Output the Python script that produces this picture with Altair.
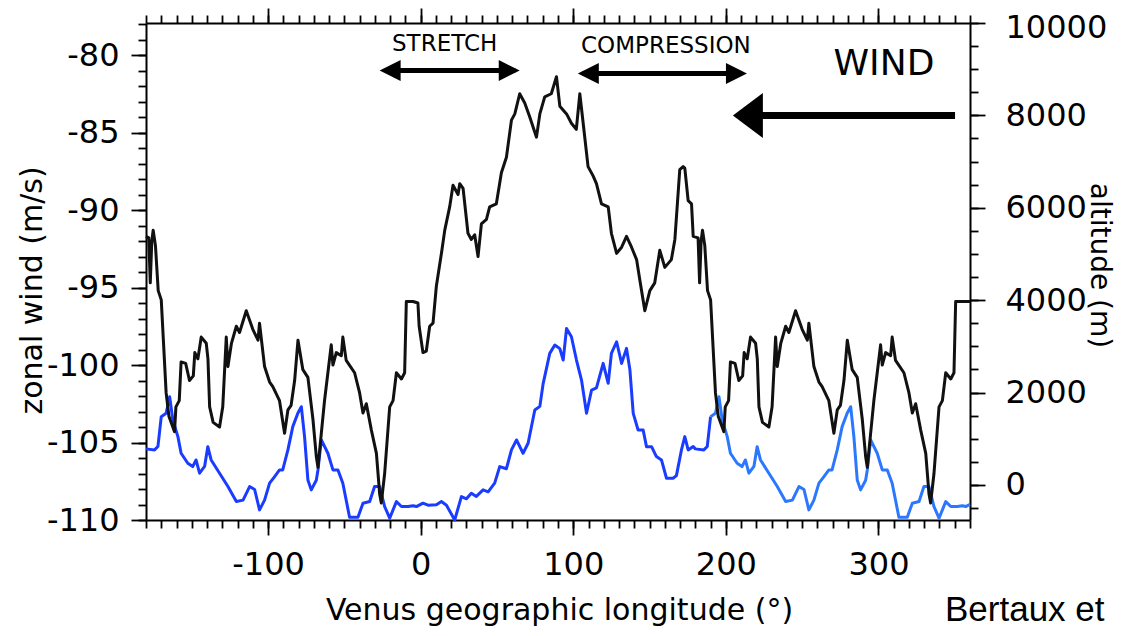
import altair as alt
import pandas as pd

# ---- black curve: zonal wind (m/s) vs longitude (deg) ----
wind_lon = [
    -180, -178.2, -177.2, -176.2, -175.3, -173.8, -172, -170, -166.8, -165,
    -161.3, -160.4, -158.2, -157, -154, -151.5, -149, -148, -146, -143.8,
    -140.5, -139.4, -138.3, -136, -131.8, -129.7, -127.4, -126.3, -124, -120.8,
    -118.7, -114.3, -110, -106.6, -105.6, -102.3, -99, -96.9, -92.5, -89.2,
    -87, -84.9, -82.6, -80.4, -77.2, -73.9, -70.6, -68.4, -67.3, -65.1,
    -63, -60.8, -58.6, -57.5, -55.3, -52, -51, -48.8, -43.3, -40,
    -37.8, -35.6, -32.3, -29, -26.9, -25.8, -23.6, -20.3, -18.1, -15.9,
    -12.6, -10.5, -9.4, -5, -1.8, -1, 1.5, 3.7, 5.9, 8.1,
    10.3, 13.6, 15.8, 19, 21.2, 24.5, 25.6, 27.8, 31, 33.2,
    35.4, 37.6, 39.8, 43.1, 45.2, 49.6, 52.9, 56.2, 59.5, 61.7,
    64.9, 68.2, 71.5, 75.9, 78.1, 81.3, 85.6, 89, 91.2, 95.6,
    98.8, 102, 104.3, 106.5, 109.7, 113, 115.2, 118.5, 122.9, 125,
    128.4, 131.7, 134.9, 138.2, 141.5, 143.6, 146.9, 150.2, 153.4, 156.7,
    160, 164.3, 166.6, 169.8, 172, 173.1, 175.3, 177.5, 178.6,
    181.8, 182.8, 183.8, 184.7, 186.2, 188, 190, 193.2, 195,
    198.7, 199.6, 201.8, 203, 206, 208.5, 211, 212, 214, 216.2,
    219.5, 220.6, 221.7, 224, 228.2, 230.3, 232.6, 233.7, 236, 239.2,
    241.3, 245.7, 250, 253.4, 254.4, 257.7, 261, 263.1, 267.5, 270.8,
    273, 275.1, 277.4, 279.6, 282.8, 286.1, 289.4, 291.6, 292.7, 294.9,
    297, 299.2, 301.4, 302.5, 304.7, 308, 309, 311.2, 316.7, 320,
    322.2, 324.4, 327.7, 331, 333.1, 334.2, 336.4, 339.7, 341.9, 344.1,
    347.4, 349.5, 350.6, 355, 360,
]
wind_val = [
    -91.7, -91.8, -94.7, -92.0, -91.3, -92.3, -95.2, -95.8, -101.8, -103.3,
    -104.3, -102.7, -102.3, -99.8, -99.9, -101.0, -100.7, -99.2, -99.6, -98.2,
    -98.6, -99.6, -102.7, -103.7, -104.0, -102.7, -98.2, -100.1, -98.6, -97.5,
    -97.9, -96.5, -97.7, -98.4, -97.3, -100.1, -101.1, -101.4, -102.3, -104.4,
    -102.9, -102.6, -101.0, -98.4, -100.3, -100.8, -103.5, -105.9, -106.6, -104.4,
    -102.3, -100.5, -98.7, -100.0, -99.2, -99.4, -98.2, -99.7, -100.5, -101.8,
    -103.1, -102.5, -104.2, -105.7, -108.3, -108.9, -107.0, -102.7, -102.3, -100.5,
    -100.9, -100.5, -95.9, -95.9, -96.0, -97.5, -99.2, -99.1, -97.5, -97.3,
    -94.9, -92.8, -91.3, -89.8, -88.4, -89.0, -88.3, -88.6, -91.5, -91.9,
    -91.6, -93.0, -90.9, -90.6, -89.8, -89.6, -87.6, -86.6, -84.2, -83.8,
    -82.5, -83.1, -84.0, -85.3, -83.8, -82.7, -82.5, -81.4, -83.3, -83.8,
    -84.4, -84.8, -82.5, -84.4, -87.2, -87.8, -88.3, -89.6, -89.8, -91.5,
    -92.8, -92.4, -91.7, -92.4, -93.2, -94.5, -96.5, -95.2, -94.7, -92.6,
    -93.7, -93.2, -91.9, -87.4, -87.2, -87.3, -89.4, -89.6, -91.7,
    -91.8, -94.7, -92.0, -91.3, -92.3, -95.2, -95.8, -101.8, -103.3,
    -104.3, -102.7, -102.3, -99.8, -99.9, -101.0, -100.7, -99.2, -99.6, -98.2,
    -98.6, -99.6, -102.7, -103.7, -104.0, -102.7, -98.2, -100.1, -98.6, -97.5,
    -97.9, -96.5, -97.7, -98.4, -97.3, -100.1, -101.1, -101.4, -102.3, -104.4,
    -102.9, -102.6, -101.0, -98.4, -100.3, -100.8, -103.5, -105.9, -106.6, -104.4,
    -102.3, -100.5, -98.7, -100.0, -99.2, -99.4, -98.2, -99.7, -100.5, -101.8,
    -103.1, -102.5, -104.2, -105.7, -108.3, -108.9, -107.0, -102.7, -102.3, -100.5,
    -100.9, -100.5, -95.9, -95.9, -95.9,
]

# ---- blue curve: altitude (m) vs longitude (deg) ----
alt_lon = [
    -180, -174.4, -172.2, -170, -166.8, -164.5, -162.4, -159.1, -157, -152.6,
    -149.4, -147.2, -144.9, -141.6, -139.5, -137.3, -131.8, -126.3, -120.8, -116.4,
    -112.1, -108.8, -105.6, -102.3, -99, -95.7, -92.5, -90.4, -87, -83.8,
    -80.5, -78.2, -76.1, -73.9, -71.7, -68.4, -67.3, -65.1, -60.8, -57.5,
    -54.2, -51, -46.6, -41.1, -37.8, -33.4, -30.2, -26.9, -23.6, -20.3,
    -15.9, -12.6, -8.3, -5, -2.8, 1.5, 4.8, 10.3, 13.6, 16.9,
    22.3, 26.7, 30, 33.2, 36.5, 40.9, 44.2, 48.5, 51.8, 56.2,
    59.5, 62.8, 67.1, 70.4, 74.8, 78.1, 80.3, 84.6, 87.9, 91.2,
    93.4, 95.6, 98.8, 102.1, 105.4, 108.7, 112, 115.2, 119.6, 122.9,
    125, 128.4, 131.7, 134.9, 137.1, 139.3, 142.5, 145.8, 148, 151.3,
    154.5, 157.8, 161.1, 165.4, 167.6, 170.9, 173.1, 175.3, 178.6, 180,
    185.6, 187.8, 190, 193.2, 195.5, 197.6, 200.9, 203, 207.4,
    210.6, 212.8, 215.1, 218.4, 220.5, 222.7, 228.2, 233.7, 239.2, 243.6,
    247.9, 251.2, 254.4, 257.7, 261, 264.3, 267.5, 269.6, 273, 276.2,
    279.5, 281.8, 283.9, 286.1, 288.3, 291.6, 292.7, 294.9, 299.2, 302.5,
    305.8, 309, 313.4, 318.9, 322.2, 326.6, 329.8, 333.1, 336.4, 339.7,
    344.1, 347.4, 351.7, 355, 357.2, 360,
]
alt_val = [
    780, 757, 830, 1477, 1550, 1909, 1405, 1045, 685, 469,
    396, 540, 253, 400, 828, 540, 253, -36, -361, -330,
    -36, -100, -541, -330, 37, 180, 324, 324, 757, 1261,
    1550, 1693, 1045, 108, -108, 100, 324, 973, 685, 324,
    324, 37, -700, -700, -396, -361, -36, -36, -469, -721,
    -361, -469, -469, -450, -469, -396, -440, -430, -361, -440,
    -760, -253, -300, -180, -250, -108, -150, 37, 396, 350,
    757, 973, 685, 901, 1622, 1700, 2199, 2847, 3027, 2950,
    2703, 3388, 3207, 2703, 2270, 1550, 2054, 2100, 2631, 2199,
    2847, 3099, 2631, 2955, 2500, 1550, 1189, 1189, 828, 828,
    613, 540, 144, 144, 200, 757, 1045, 757, 830, 780,
    757, 830, 1477, 1550, 1909, 1405, 1045, 685, 469,
    396, 540, 253, 400, 828, 540, 253, -36, -361, -330,
    -36, -100, -541, -330, 37, 180, 324, 324, 757, 1261,
    1550, 1693, 1045, 108, -108, 100, 324, 973, 685, 324,
    324, 37, -700, -700, -396, -361, -36, -36, -469, -721,
    -361, -469, -469, -450, -469, -420,
]

# ---- axis tick values ----
x_major = [-100, 0, 100, 200, 300]
x_minor = list(range(-180, 361, 10))
w_major = [-110, -105, -100, -95, -90, -85, -80]
w_minor = list(range(-110, -77, 1))
a_major = [0, 2000, 4000, 6000, 8000, 10000]
a_minor = list(range(-500, 10001, 500))

# ---- annotations (in longitude / wind coordinates) ----
ann_label = ["STRETCH", "COMPRESSION", "WIND"]
ann_lon = [15.7, 160.7, 303.6]
ann_wind = [-79.3, -79.4, -80.6]
ann_size = [23, 23, 36]

arrow_x1 = [-23, 106, 212]
arrow_x2 = [62, 210, 350.2]
arrow_y = [-81.0, -81.2, -83.9]
arrow_w = [5, 5, 7]

head_r_lon = [64.9, 213.8]
head_r_y = [-81.0, -81.2]
head_l_lon = [-26.9, 103]
head_l_y = [-81.0, -81.2]
wind_head_lon = [204.6]
wind_head_y = [-83.9]

FONT = "DejaVu Sans"
LBL = "'' + datum.value"


def xs():
    return alt.Scale(domain=[-180, 360], nice=False, zero=False)


def ws():
    return alt.Scale(domain=[-110, -77.935], nice=False, zero=False)


def as_():
    return alt.Scale(domain=[-760, 10000], nice=False, zero=False)


ax_bottom = alt.Axis(orient="bottom", values=x_major, tickSize=15, labelFontSize=32,
                     labelPadding=14, labelExpr=LBL, labelFlush=False, titleFontSize=30,
                     titleX=413, titleY=90, titleAlign="center", titleBaseline="middle",
                     titleAngle=0)
ax_bottom_minor = alt.Axis(orient="bottom", values=x_minor, tickSize=8, labels=False, domain=False)
ax_top = alt.Axis(orient="top", values=x_major, tickSize=15, labels=False)
ax_top_minor = alt.Axis(orient="top", values=x_minor, tickSize=8, labels=False, domain=False)
ax_left = alt.Axis(orient="left", values=w_major, tickSize=15, labelFontSize=32,
                   labelPadding=12, labelExpr=LBL, labelFlush=False, titleFontSize=30,
                   titleX=-114, titleY=267, titleAngle=270, titleAlign="center",
                   titleBaseline="middle")
ax_left_minor = alt.Axis(orient="left", values=w_minor, tickSize=8, labels=False, domain=False)
ax_right = alt.Axis(orient="right", values=a_major, tickSize=15, labelFontSize=32,
                    labelPadding=20, labelExpr=LBL, labelFlush=False,
                    labelOffset={"condition": {"test": "datum.value == 10000", "value": 4},
                                 "value": 0},
                    titleFontSize=28, titleX=128, titleY=242, titleAngle=90,
                    titleAlign="center", titleBaseline="middle")
ax_right_minor = alt.Axis(orient="right", values=a_minor, tickSize=8, labels=False, domain=False)

wind_df = pd.DataFrame({"lon": wind_lon, "wind": wind_val})
alt_df = pd.DataFrame({"lon": alt_lon, "alt": alt_val})
alt_df1 = alt_df[alt_df["lon"] <= 190]
alt_df2 = alt_df[alt_df["lon"] >= 190]

blue1 = alt.Chart(alt_df1).mark_line(color="#1a3cff", strokeWidth=3, strokeJoin="round").encode(
    x=alt.X("lon:Q", scale=xs(), axis=None),
    y=alt.Y("alt:Q", scale=as_(), axis=ax_right, title="altitude (m)"),
)
blue2 = alt.Chart(alt_df2).mark_line(color="#2b78ff", strokeWidth=3, strokeJoin="round").encode(
    x=alt.X("lon:Q", scale=xs(), axis=None),
    y=alt.Y("alt:Q", scale=as_(), axis=ax_right_minor, title=None),
)
black = alt.Chart(wind_df).mark_line(color="#111111", strokeWidth=3, strokeJoin="round").encode(
    x=alt.X("lon:Q", scale=xs(), axis=ax_bottom, title="Venus geographic longitude (°)"),
    y=alt.Y("wind:Q", scale=ws(), axis=ax_left, title="zonal wind (m/s)"),
)

ann_df = pd.DataFrame({"lon": ann_lon, "wind": ann_wind, "label": ann_label, "fs": ann_size})
texts = alt.Chart(ann_df).mark_text(font=FONT, color="black", align="center",
                                    baseline="middle").encode(
    x=alt.X("lon:Q", scale=xs(), axis=ax_bottom_minor, title=None),
    y=alt.Y("wind:Q", scale=ws(), axis=ax_left_minor, title=None),
    text="label:N",
    size=alt.Size("fs:Q", scale=None, legend=None),
)

bert_df = pd.DataFrame({"lon": [343.6], "wind": [-115.8], "label": ["Bertaux et"]})
bert = alt.Chart(bert_df).mark_text(font="Liberation Sans", fontSize=35, color="black",
                                    align="left", baseline="middle").encode(
    x=alt.X("lon:Q", scale=xs(), axis=None),
    y=alt.Y("wind:Q", scale=ws(), axis=None),
    text="label:N",
)

arrow_df = pd.DataFrame({"x1": arrow_x1, "x2": arrow_x2, "y": arrow_y, "w": arrow_w})
rules = alt.Chart(arrow_df).mark_rule(color="black").encode(
    x=alt.X("x1:Q", scale=xs(), axis=ax_top, title=None),
    x2="x2:Q",
    y=alt.Y("y:Q", scale=ws(), axis=None),
    strokeWidth=alt.StrokeWidth("w:Q", scale=None, legend=None),
)

hr_df = pd.DataFrame({"lon": head_r_lon, "y": head_r_y})
heads_r = alt.Chart(hr_df).mark_point(shape="M0,0L-2,-1L-2,1Z", size=440, filled=True,
                                      color="black", opacity=1, strokeWidth=0).encode(
    x=alt.X("lon:Q", scale=xs(), axis=ax_top_minor, title=None),
    y=alt.Y("y:Q", scale=ws(), axis=None),
)
hl_df = pd.DataFrame({"lon": head_l_lon, "y": head_l_y})
heads_l = alt.Chart(hl_df).mark_point(shape="M0,0L2,-1L2,1Z", size=440, filled=True,
                                      color="black", opacity=1, strokeWidth=0).encode(
    x=alt.X("lon:Q", scale=xs(), axis=None),
    y=alt.Y("y:Q", scale=ws(), axis=None),
)
hw_df = pd.DataFrame({"lon": wind_head_lon, "y": wind_head_y})
head_w = alt.Chart(hw_df).mark_point(shape="M0,0L2,-1.5L2,1.5Z", size=900, filled=True,
                                     color="black", opacity=1, strokeWidth=0).encode(
    x=alt.X("lon:Q", scale=xs(), axis=None),
    y=alt.Y("y:Q", scale=ws(), axis=None),
)

chart = alt.layer(
    blue1, blue2, black, texts, bert, rules, heads_r, heads_l, head_w
).resolve_scale(
    x="independent", y="independent"
).properties(
    width=824, height=497,
    autosize=alt.AutoSizeParams(type="none"),
    padding={"left": 138, "top": 15, "right": 146, "bottom": 108},
).configure_axis(
    grid=False, domainColor="black", domainWidth=2, tickColor="black", tickWidth=1.8,
    labelColor="black", titleColor="black", labelFont=FONT, titleFont=FONT,
    titleFontWeight="normal", labelFontWeight="normal",
).configure_view(stroke=None)

chart.save("out.html", embed_options={"renderer": "svg", "actions": False})
